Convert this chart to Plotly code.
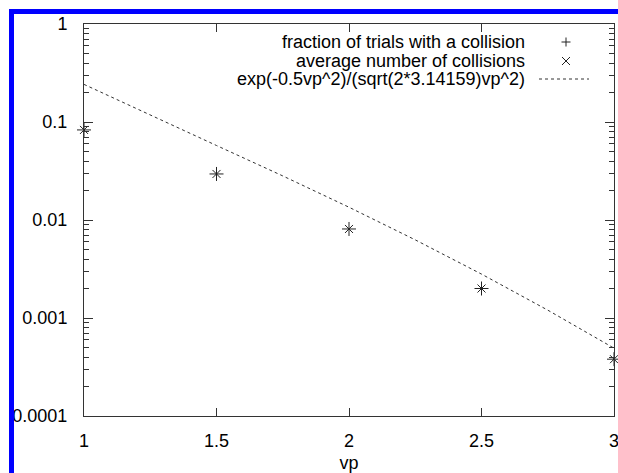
import plotly.graph_objects as go

# data
vp = [1.0, 1.5, 2.0, 2.5, 3.0]
frac_collision = [0.083, 0.0295, 0.0081, 0.0020, 0.00038]
avg_collisions = [0.083, 0.0295, 0.0081, 0.0020, 0.00038]
curve_x = [1.0, 1.25, 1.5, 1.75, 2.0, 2.25, 2.5, 2.75, 3.0]
curve_y = [0.2420, 0.1169, 0.05757, 0.02818, 0.01350, 0.006270, 0.002805, 0.001203, 0.0004924]
ytick_vals = [1e-4, 1e-3, 1e-2, 1e-1, 1]
ytick_text = ["0.0001", "0.001", "0.01", "0.1", "1"]
decades = [1e-4, 1e-3, 1e-2, 1e-1]
minor_mult = [2, 3, 4, 5, 6, 7, 8, 9]
xtick_vals = [1, 1.5, 2, 2.5, 3]
xtick_text = ["1", "1.5", "2", "2.5", "3"]
legend_labels = ["fraction of trials with a collision",
                 "average number of collisions",
                 "exp(-0.5vp^2)/(sqrt(2*3.14159)vp^2)"]

ytick_minor = [d * m for d in decades for m in minor_mult]

W, H = 618, 473
L, R, T, B = 84, 614, 24, 416
FONT = "Liberation Sans, Arial, Helvetica, sans-serif"
FS = 18
INK = "#222222"

def px(x):
    return (x - L) / (R - L)

def py(y):
    return (B - y) / (B - T)

fig = go.Figure()
fig.add_trace(go.Scatter(x=curve_x, y=curve_y, mode="lines",
                         line=dict(color="#333333", width=1, dash="3px,3px"),
                         showlegend=False, cliponaxis=False))
fig.add_trace(go.Scatter(x=vp, y=frac_collision, mode="markers",
                         marker=dict(symbol="cross-thin", size=10,
                                     line=dict(color=INK, width=1)),
                         showlegend=False, cliponaxis=False))
fig.add_trace(go.Scatter(x=vp, y=avg_collisions, mode="markers",
                         marker=dict(symbol="x-thin", size=8,
                                     line=dict(color=INK, width=1)),
                         showlegend=False, cliponaxis=False))

shapes = []
# blue border lines (left and top)
shapes.append(dict(type="line", xref="paper", yref="paper",
                   x0=px(11.5), x1=px(11.5), y0=py(9), y1=py(H + 5),
                   line=dict(color="#0000ff", width=5)))
shapes.append(dict(type="line", xref="paper", yref="paper",
                   x0=px(9), x1=px(W + 5), y0=py(11.5), y1=py(11.5),
                   line=dict(color="#0000ff", width=5)))
# legend samples
cx, s = 566, 4.5
shapes.append(dict(type="line", xref="paper", yref="paper",
                   x0=px(cx - s), x1=px(cx + s), y0=py(42), y1=py(42),
                   line=dict(color=INK, width=1)))
shapes.append(dict(type="line", xref="paper", yref="paper",
                   x0=px(cx), x1=px(cx), y0=py(42 - s), y1=py(42 + s),
                   line=dict(color=INK, width=1)))
d = 4
shapes.append(dict(type="line", xref="paper", yref="paper",
                   x0=px(cx - d), x1=px(cx + d), y0=py(61 - d), y1=py(61 + d),
                   line=dict(color=INK, width=1)))
shapes.append(dict(type="line", xref="paper", yref="paper",
                   x0=px(cx - d), x1=px(cx + d), y0=py(61 + d), y1=py(61 - d),
                   line=dict(color=INK, width=1)))
shapes.append(dict(type="line", xref="paper", yref="paper",
                   x0=px(539), x1=px(589), y0=py(79), y1=py(79),
                   line=dict(color="#333333", width=1, dash="3px,3px")))

annotations = []
for lab, yy in zip(legend_labels, [42, 61, 79]):
    annotations.append(dict(text=lab, xref="paper", yref="paper",
                            x=px(527), y=py(yy), xanchor="right", yanchor="middle",
                            showarrow=False, font=dict(family=FONT, size=FS, color="black")))

fig.update_layout(
    width=W, height=H,
    margin=dict(l=L, r=W - R, t=T, b=H - B, autoexpand=False),
    paper_bgcolor="white", plot_bgcolor="white",
    font=dict(family=FONT, size=FS, color="black"),
    shapes=shapes, annotations=annotations,
    showlegend=False,
    xaxis=dict(range=[1, 3], tickvals=xtick_vals, ticktext=xtick_text,
               ticks="inside", ticklen=8, tickcolor="#333333",
               showline=True, linecolor="#333333", linewidth=1, mirror="ticks",
               showgrid=False, zeroline=False, ticklabelstandoff=8,
               ticklabeloverflow="allow", automargin=False,
               title=dict(text="vp", standoff=8, font=dict(size=FS))),
    yaxis=dict(type="log", range=[-4, 0], tickvals=ytick_vals, ticktext=ytick_text,
               ticks="inside", ticklen=9, tickcolor="#333333",
               showline=True, linecolor="#333333", linewidth=1, mirror="ticks",
               showgrid=False, zeroline=False, ticklabelstandoff=12,
               automargin=False,
               minor=dict(tickvals=ytick_minor, ticks="inside", ticklen=5,
                          tickcolor="#333333", showgrid=False)),
)

fig.write_html("out.html")
